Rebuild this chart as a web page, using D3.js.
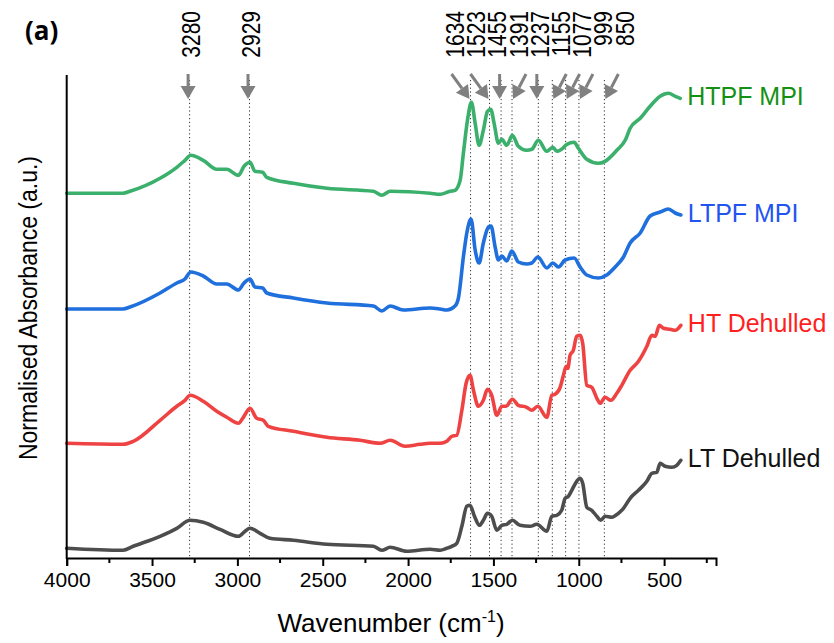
<!DOCTYPE html>
<html>
<head>
<meta charset="utf-8">
<script src="https://cdn.jsdelivr.net/npm/d3@7"></script>
<style>
  body { margin: 0; background: #fff; }
  svg text { font-family: "Liberation Sans", Arial, sans-serif; }
</style>
</head>
<body>
<div id="graph"></div>
<script>
// spectra : [wavenumber, absorbance above the curve's own baseline]
const ltDehulled = [
  [4000, 0], [3670, -0.02], [3610, 0.02], [3453, 0.12], [3355, 0.20], [3277, 0.28], [3200, 0.26],
  [3102, 0.19], [2994, 0.12], [2955, 0.17], [2926, 0.20], [2867, 0.15], [2809, 0.10], [2672, 0.08],
  [2476, 0.04], [2203, 0.02], [2154, -0.02], [2105, 0.01], [2008, -0.03], [1871, -0.01], [1812, -0.02],
  [1773, 0], [1744, 0.02], [1715, 0.05], [1685, 0.22], [1656, 0.42], [1637, 0.43], [1611, 0.32],
  [1582, 0.23], [1559, 0.28], [1535, 0.35], [1510, 0.32], [1480, 0.18], [1451, 0.23], [1422, 0.24],
  [1389, 0.28], [1344, 0.23], [1285, 0.22], [1246, 0.24], [1187, 0.17], [1158, 0.32], [1129, 0.33],
  [1100, 0.38], [1080, 0.50], [1061, 0.52], [1041, 0.58], [1012, 0.67], [992, 0.70], [977, 0.65],
  [953, 0.41], [924, 0.38], [894, 0.32], [871, 0.28], [846, 0.32], [806, 0.31], [768, 0.35],
  [738, 0.40], [699, 0.50], [650, 0.58], [601, 0.67], [572, 0.75], [543, 0.76], [523, 0.85],
  [494, 0.82], [455, 0.81], [426, 0.83], [402, 0.88]
]
const htDehulled = [
  [4000, 0], [3670, -0.01], [3610, 0.02], [3453, 0.23], [3355, 0.37], [3307, 0.43], [3277, 0.48],
  [3200, 0.42], [3121, 0.32], [3062, 0.26], [2994, 0.20], [2965, 0.26], [2926, 0.35], [2887, 0.25],
  [2848, 0.23], [2819, 0.17], [2672, 0.12], [2476, 0.06], [2281, 0.03], [2164, 0], [2105, 0.03],
  [2018, -0.03], [1930, -0.01], [1871, 0], [1812, 0], [1773, 0.02], [1744, 0.07], [1715, 0.08],
  [1685, 0.33], [1660, 0.60], [1637, 0.68], [1617, 0.53], [1588, 0.37], [1559, 0.43], [1535, 0.54],
  [1510, 0.48], [1480, 0.28], [1451, 0.37], [1426, 0.37], [1389, 0.44], [1354, 0.38], [1305, 0.36],
  [1275, 0.33], [1240, 0.37], [1187, 0.26], [1158, 0.48], [1139, 0.49], [1109, 0.56], [1090, 0.68],
  [1074, 0.77], [1064, 0.75], [1051, 0.88], [1032, 0.93], [1012, 1.07], [992, 1.08], [977, 1.00],
  [953, 0.58], [924, 0.56], [894, 0.45], [875, 0.40], [846, 0.46], [812, 0.43], [777, 0.50],
  [748, 0.58], [699, 0.73], [650, 0.82], [601, 0.97], [572, 1.08], [552, 1.07], [528, 1.18],
  [504, 1.15], [465, 1.14], [435, 1.13], [402, 1.18]
]
const ltpfMpi = [
  [4000, 0], [3670, 0], [3629, 0.02], [3453, 0.16], [3355, 0.26], [3307, 0.30], [3273, 0.37],
  [3200, 0.33], [3121, 0.25], [3062, 0.25], [2994, 0.19], [2961, 0.26], [2926, 0.30], [2897, 0.22],
  [2852, 0.21], [2828, 0.16], [2672, 0.11], [2476, 0.06], [2203, 0.03], [2154, -0.02], [2105, 0.03],
  [2028, -0.01], [1871, 0.01], [1812, 0], [1773, -0.01], [1725, 0.03], [1705, 0.11], [1676, 0.52],
  [1656, 0.76], [1631, 0.90], [1607, 0.59], [1584, 0.46], [1559, 0.66], [1529, 0.82], [1514, 0.83],
  [1490, 0.62], [1471, 0.49], [1451, 0.53], [1422, 0.48], [1392, 0.58], [1354, 0.47], [1305, 0.45],
  [1275, 0.46], [1240, 0.52], [1187, 0.41], [1152, 0.46], [1119, 0.42], [1080, 0.49], [1027, 0.51],
  [992, 0.42], [953, 0.34], [885, 0.31], [836, 0.34], [787, 0.42], [738, 0.52], [699, 0.66],
  [640, 0.76], [582, 0.93], [523, 0.97], [475, 1.00], [435, 0.96], [402, 0.94]
]
const htpfMpi = [
  [4000, 0], [3670, 0], [3629, 0.02], [3453, 0.15], [3355, 0.26], [3307, 0.33], [3273, 0.38],
  [3200, 0.33], [3121, 0.24], [3062, 0.24], [2994, 0.18], [2961, 0.27], [2926, 0.31], [2897, 0.22],
  [2852, 0.21], [2828, 0.16], [2672, 0.10], [2476, 0.05], [2203, 0.02], [2154, -0.02], [2105, 0.02],
  [1871, 0], [1812, -0.01], [1754, 0.02], [1725, 0.03], [1695, 0.13], [1676, 0.40], [1652, 0.73],
  [1629, 0.91], [1607, 0.70], [1584, 0.48], [1559, 0.63], [1535, 0.82], [1516, 0.84], [1496, 0.70],
  [1471, 0.50], [1451, 0.54], [1422, 0.48], [1389, 0.58], [1354, 0.47], [1305, 0.43], [1275, 0.44],
  [1237, 0.53], [1187, 0.42], [1152, 0.46], [1129, 0.42], [1094, 0.45], [1070, 0.49], [1027, 0.51],
  [1002, 0.45], [953, 0.34], [885, 0.30], [846, 0.32], [777, 0.43], [728, 0.53], [699, 0.65],
  [640, 0.75], [582, 0.87], [523, 0.97], [475, 1.00], [435, 0.97], [406, 0.95]
]

const seriesNames = ['LT Dehulled', 'HT Dehulled', 'LTPF MPI', 'HTPF MPI']
const seriesData = [ltDehulled, htDehulled, ltpfMpi, htpfMpi]
const offsets = [0.097, 1.147, 2.49, 3.647]   // vertical stacking
const lineColors = ['#4d4d4d', '#ef4343', '#1f6fdc', '#3bb06c']
const labelColors = ['#111111', '#ff1f1f', '#2255f0', '#149114']

// peak markers
const peaks = [3280, 2929, 1634, 1523, 1455, 1391, 1237, 1155, 1077, 999, 850]
const arrowDir = ['v', 'v', 'dr', 'dr', 'v', 'dl', 'v', 'dl', 'dl', 'dl', 'dl']

const xTicks = [4000, 3500, 3000, 2500, 2000, 1500, 1000, 500]

let margin = { top: 75, left: 66.7, right: 118, bottom: 85 },
    width = 834 - margin.left - margin.right,
    height = 643 - margin.top - margin.bottom

let svg = d3.select('#graph').append('svg')
    .attr('width', 834)
    .attr('height', 643)

let x = d3.scaleLinear().domain([4000, 196]).range([margin.left, margin.left + width])
let y = d3.scaleLinear().domain([0, 4.83]).range([558, 75])

// dotted guide lines
svg.append('g').selectAll('line')
    .data(peaks)
    .join('line')
    .attr('x1', d => x(d)).attr('x2', d => x(d))
    .attr('y1', 80).attr('y2', 557)
    .attr('stroke', '#333')
    .attr('stroke-width', 1)
    .attr('stroke-dasharray', '1.2,2.6')

// curves
let line = d3.line()
    .x(d => x(d[0]))
    .y(d => d.y)
    .curve(d3.curveMonotoneX)

seriesData.forEach((s, i) => {
    let pts = s.map(d => { let p = [d[0], d[1]]; p.y = y(d[1] + offsets[i]); return p })
    svg.append('path')
        .datum(pts)
        .attr('d', line)
        .attr('fill', 'none')
        .attr('stroke', lineColors[i])
        .attr('stroke-width', 3.6)
        .attr('stroke-linejoin', 'round')
        .attr('stroke-linecap', 'round')

    let last = s[s.length - 1]
    svg.append('text')
        .attr('x', x(last[0]) + 7)
        .attr('y', y(last[1] + offsets[i]) - 2)
        .attr('dy', '0.36em')
        .attr('font-size', 25)
        .attr('fill', labelColors[i])
        .text(seriesNames[i])
})

// x axis
let xAxis = svg.append('g')
    .attr('transform', 'translate(0,558)')
    .call(d3.axisBottom(x).tickValues(xTicks).tickSize(8).tickPadding(6).tickFormat(d3.format('d')))
xAxis.select('.domain').attr('stroke-width', 2)
xAxis.selectAll('.tick line').attr('stroke-width', 2)
xAxis.selectAll('text').attr('font-size', 21).attr('fill', '#000')

// minor ticks
svg.append('g').selectAll('line')
    .data(d3.range(3750, 199, -500))
    .join('line')
    .attr('x1', d => x(d)).attr('x2', d => x(d))
    .attr('y1', 558).attr('y2', 563)
    .attr('stroke', '#000').attr('stroke-width', 2)

// y axis (bare line)
svg.append('line')
    .attr('x1', margin.left).attr('x2', margin.left)
    .attr('y1', 75).attr('y2', 559)
    .attr('stroke', '#000').attr('stroke-width', 2)

// axis titles
let xt = svg.append('text')
    .attr('x', 391).attr('y', 632)
    .attr('text-anchor', 'middle')
    .attr('font-size', 26)
xt.append('tspan').text('Wavenumber (cm')
xt.append('tspan').attr('dy', -10).attr('font-size', 16).text('-1')
xt.append('tspan').attr('dy', 10).text(')')

svg.append('text')
    .attr('transform', 'translate(37,308) rotate(-90) scale(1,1.15)')
    .attr('text-anchor', 'middle')
    .attr('font-size', 23)
    .text('Normalised Absorbance (a.u.)')

svg.append('text')
    .attr('x', 25).attr('y', 40)
    .attr('font-size', 26)
    .attr('font-weight', 'bold')
    .style('font-family', '"Open Sans", sans-serif')
    .text('(a)')

// peak labels
let labelX = (d, i) => i < 2 ? x(d) + 1 : 455 + (i - 2) * 21.2
svg.append('g').selectAll('text')
    .data(peaks)
    .join('text')
    .attr('transform', (d, i) => 'translate(' + labelX(d, i) + ',11) rotate(-90) scale(1,1.2)')
    .attr('text-anchor', 'end')
    .attr('dy', '0.36em')
    .attr('font-size', 21)
    .text(d => d)

// arrows
let arrows = svg.append('g')
peaks.forEach((p, i) => {
    let tipX = x(p), tipY = 99, x0, y0 = 74
    if (arrowDir[i] === 'v') { tipX = x(p) - 1.5; x0 = tipX }
    else if (arrowDir[i] === 'dr') { tipX = x(p) - 1; x0 = tipX - 18 }
    else { tipX = x(p) + 1; x0 = tipX + 13 }
    let dx = tipX - x0, dy = tipY - y0, len = Math.sqrt(dx * dx + dy * dy)
    let ux = dx / len, uy = dy / len
    let hl = 13, hw = 7.5
    let bx = tipX - ux * hl, by = tipY - uy * hl
    arrows.append('line')
        .attr('x1', x0).attr('y1', y0).attr('x2', bx).attr('y2', by)
        .attr('stroke', '#808080').attr('stroke-width', 3)
    arrows.append('path')
        .attr('d', 'M' + tipX + ',' + tipY +
            'L' + (bx - uy * hw) + ',' + (by + ux * hw) +
            'L' + (bx + uy * hw) + ',' + (by - ux * hw) + 'Z')
        .attr('fill', '#808080')
})
</script>
</body>
</html>
